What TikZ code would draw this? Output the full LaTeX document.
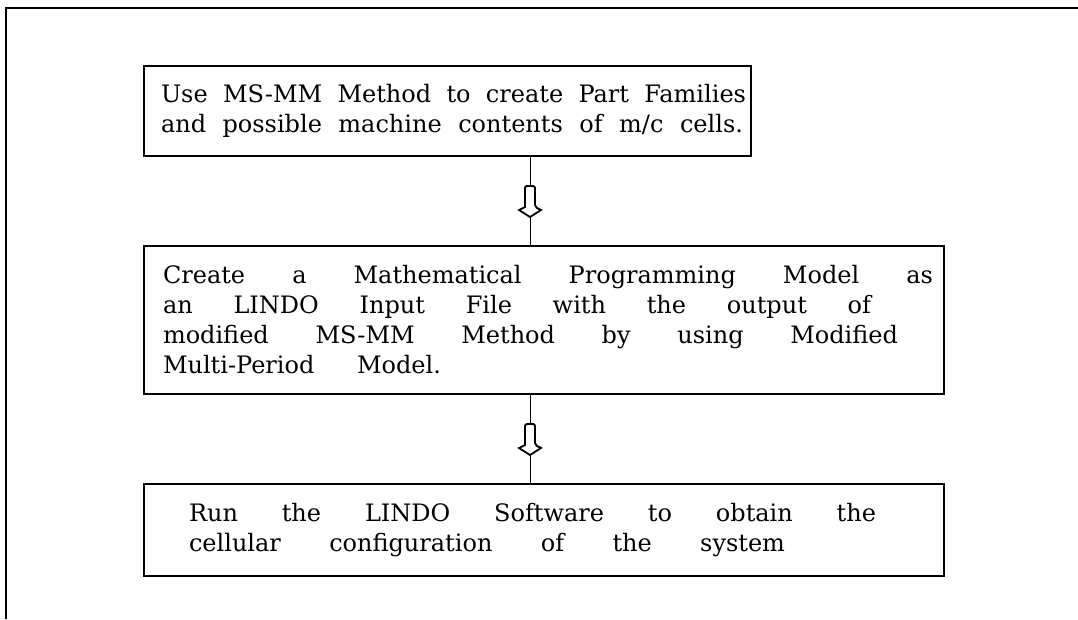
\documentclass[tikz,border=0pt]{standalone}
\usepackage{fontspec}
\setmainfont{DejaVu Serif}
\usetikzlibrary{calc}

\tikzset{
every picture/.style={
line width=2pt
}}
\tikzset{
  stepbox/.style={draw, anchor=north west, inner xsep=0pt, inner ysep=0pt,
    align=left, font=\fontsize{24}{30}\selectfont},
  stem/.style={line width=1pt},
  hollow arrow/.pic={
    \draw[fill=white, line width=1.8pt, rounded corners=2pt]
      (-5,6) -- (-5,-15) -- (5,-15) -- (5,6) [sharp corners] -- (11,9) -- (0,16) -- (-11,9) -- cycle;
  }
}
% one line of a box: indent, width, words spread over that width
\newcommand{\spreadline}[3]{\hspace*{#1}\makebox[#2][s]{\spaceskip=0.3em plus 1fil\relax #3}}

\begin{document}
\begin{tikzpicture}[x=1pt, y=-1pt]
  \useasboundingbox (0,0) rectangle (1078,619);

  % page frame
  \draw [line width=2.5pt] (6,619) -- (6,8) -- (1078,8);

  % steps
  \node [stepbox, minimum width=607pt, minimum height=90pt, text width=607pt] at (143,65) (families)
    {\spreadline{17pt}{585pt}{Use MS-MM Method to create Part Families}\\
     \spreadline{17pt}{582pt}{and possible machine contents of m/c cells.}};

  \node [stepbox, minimum width=800pt, minimum height=148pt, text width=800pt] at (143,245) (model)
    {\spreadline{19pt}{770pt}{Create a Mathematical Programming Model as}\\
     \spreadline{19pt}{708pt}{an LINDO Input File with the output of}\\
     \spreadline{19pt}{735pt}{modified MS-MM Method by using Modified}\\
     \spreadline{19pt}{278pt}{Multi-Period Model.}};

  \node [stepbox, minimum width=800pt, minimum height=92pt, text width=800pt] at (143,483) (lindo)
    {\spreadline{45pt}{687pt}{Run the LINDO Software to obtain the}\\
     \spreadline{45pt}{596pt}{cellular configuration of the system}};

  % flow
  \coordinate (axis) at (530,0);
  \draw [stem] (families.south -| axis) -- (model.north -| axis);
  \draw [stem] (model.south -| axis) -- (lindo.north -| axis);
  \path ($(families.south -| axis)!0.5!(model.north -| axis)$) pic {hollow arrow};
  \path ($(model.south -| axis)!0.5!(lindo.north -| axis)$) pic {hollow arrow};
\end{tikzpicture}
\end{document}
